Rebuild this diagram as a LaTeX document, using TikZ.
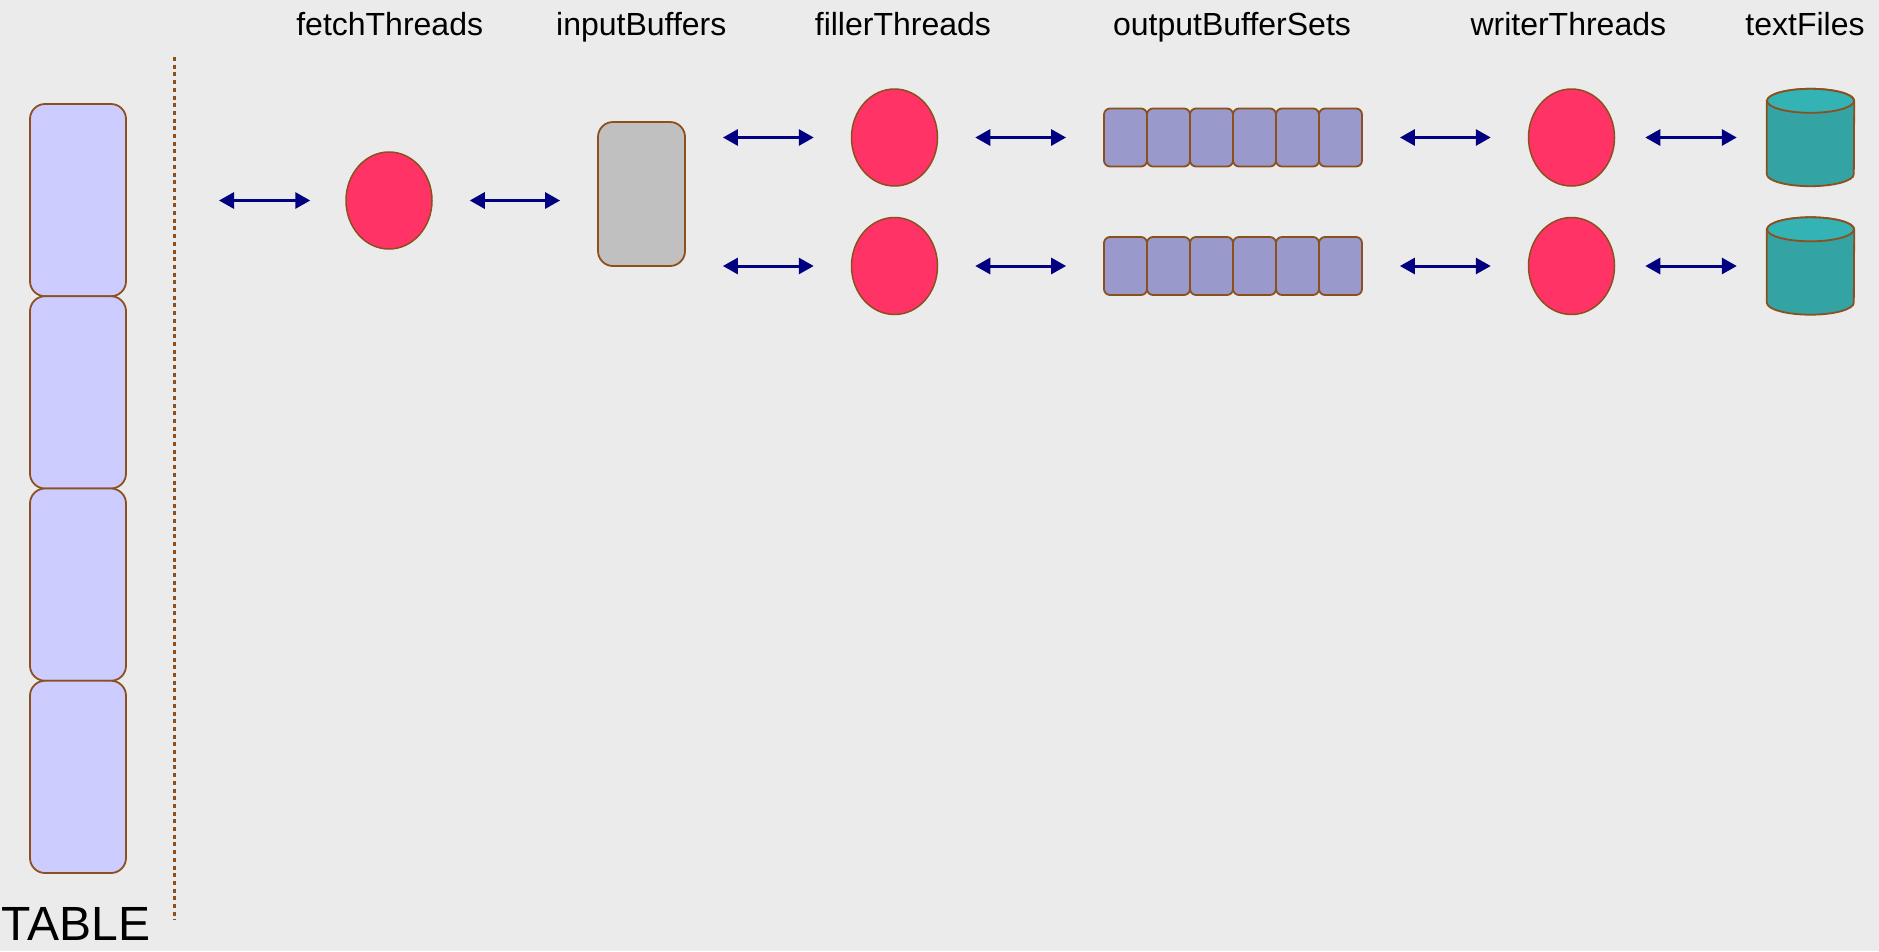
\documentclass[tikz,border=0pt]{standalone}
\usepackage{fontspec}
\setmainfont{Liberation Sans}
\usetikzlibrary{arrows.meta,shapes.geometric}
\definecolor{bgGray}{RGB}{235,235,235}
\definecolor{edgeBrown}{RGB}{139,80,30}
\definecolor{tableBlue}{RGB}{204,204,255}
\definecolor{threadRed}{RGB}{255,51,102}
\definecolor{bufGray}{RGB}{192,192,192}
\definecolor{bufBlue}{RGB}{153,153,204}
\definecolor{fileTeal}{RGB}{51,163,163}
\definecolor{fileTealTop}{RGB}{51,179,179}
\definecolor{arrowNavy}{RGB}{0,0,128}

\begin{document}
\begin{tikzpicture}[x=1pt,y=-1pt,
  border/.style={draw=edgeBrown,line width=1.8pt},
  tblock/.style={border,fill=tableBlue,rounded corners=15pt,minimum width=96pt,minimum height=192.25pt,inner sep=0pt},
  thread/.style={ellipse,border,line width=1.5pt,fill=threadRed,minimum width=86pt,minimum height=97pt,inner sep=0pt},
  inbuf/.style={border,fill=bufGray,rounded corners=15pt,minimum width=87pt,minimum height=144pt,inner sep=0pt},
  outbuf/.style={border,fill=bufBlue,rounded corners=6pt,minimum width=43pt,minimum height=58pt,inner sep=0pt},
  tfile/.style={minimum width=87pt,minimum height=97pt,inner sep=0pt},
  link/.style={{Triangle[length=15pt,width=16pt]}-{Triangle[length=15pt,width=16pt]},draw=arrowNavy,line width=3pt,shorten <=37pt,shorten >=37pt},
  colhead/.style={anchor=base,font=\fontsize{32}{38}\selectfont}]
       \fill[bgGray](0,0)rectangle(1879,951);
       \useasboundingbox(0,0)rectangle(1879,951);
       \coordinate(sepTop)at(174,57);
       \coordinate(sepBot)at(174,920);
       % table
       \foreach \i in {1,...,4}
         \node[tblock](tbl\i)at(78,{200.125+192.25*(\i-1)}){};
       \node[anchor=base west,inner sep=0pt,font=\fontsize{48}{56}\selectfont](tableLabel)at(1.5,940){TABLE};
       \draw[draw=edgeBrown,line width=3pt,dash pattern=on 4pt off 3.7pt](sepTop)--(sepBot);
       % column heads
       \node[colhead](hFetch)at(389.7,35){fetchThreads};
       \node[colhead](hInput)at(641.3,35){inputBuffers};
       \node[colhead](hFiller)at(902.9,35){fillerThreads};
       \node[colhead](hOutput)at(1232,35){outputBufferSets};
       \node[colhead](hWriter)at(1568.3,35){writerThreads};
       \node[colhead](hText)at(1805,35){textFiles};
       % stages
       \node[thread](fetch)at(389,200.5){};
       \node[inbuf](input)at(641.5,194){};
       \foreach \r/\y in {1/137.5,2/266}{
         \node[thread](fill\r)at(894.5,\y){};
         \foreach \k in {1,...,6}
           \node[outbuf](buf\r-\k)at({1125.5+43*(\k-1)},\y){};
         \node[thread](writer\r)at(1571.5,\y){};
         \node[tfile](text\r)at(1810.5,\y){};
         % the file drum
         \draw[border,fill=fileTeal]([yshift=-12pt]text\r.north west)--([yshift=12pt]text\r.south west)
           arc[start angle=180,end angle=360,x radius=43.5pt,y radius=12pt]
           --([yshift=-12pt]text\r.north east)
           arc[start angle=0,end angle=180,x radius=43.5pt,y radius=12pt]--cycle;
         \draw[border,fill=fileTealTop]([yshift=-12pt]text\r.north)ellipse[x radius=43.5pt,y radius=12pt];
       }
       % links
       \draw[link,shorten <=45pt,shorten >=35pt](sepTop|-fetch)--(fetch);
       \draw[link](fetch)--(input.west|-fetch);
       \foreach \r in {1,2}{
         \draw[link](input.east|-fill\r)--(fill\r);
         \draw[link](fill\r)--(buf\r-1);
         \draw[link](buf\r-6)--(writer\r);
         \draw[link,shorten <=30pt,shorten >=30pt](writer\r)--(text\r.west);
       }
      \end{tikzpicture}
\end{document}
